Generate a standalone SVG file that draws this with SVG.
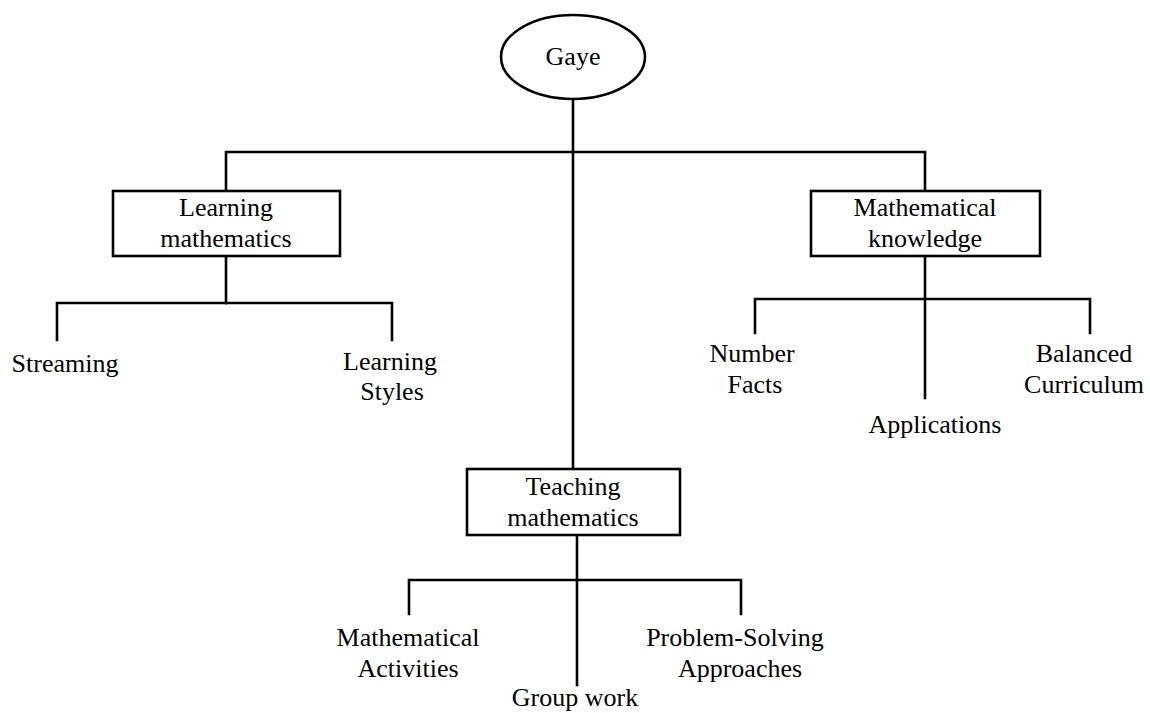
<svg xmlns="http://www.w3.org/2000/svg" width="1150" height="713" viewBox="0 0 1150 713">
<style>
.ln{stroke:#000;stroke-width:2.6;fill:none;stroke-linecap:square}
.bx{stroke:#000;stroke-width:2.6;fill:#fff}
.t{font-family:'Liberation Serif','Times New Roman',Times,serif;font-size:26px;fill:#000;text-anchor:middle}
</style>
<rect width="1150" height="713" fill="#fff"/>
<g id="connectors">
<path class="ln" d="M573,99 V469"/>
<path class="ln" d="M226,191 V152 H925 V191"/>
<path class="ln" d="M226,256 V303"/>
<path class="ln" d="M57,340 V303 H392 V340"/>
<path class="ln" d="M925,256 V398"/>
<path class="ln" d="M755,333 V299 H1090 V333"/>
<path class="ln" d="M577,535 V685"/>
<path class="ln" d="M409,614 V580 H741 V614"/>
</g>
<g class="t" font-family="Liberation Serif, serif">
<g id="gaye">
<ellipse class="bx" cx="573" cy="57" rx="72" ry="42"/>
<text x="573" y="65">Gaye</text>
</g>
<g id="learning-mathematics">
<rect class="bx" x="113" y="191" width="227" height="65"/>
<text x="226" y="216">Learning</text>
<text x="226" y="247">mathematics</text>
</g>
<g id="mathematical-knowledge">
<rect class="bx" x="811" y="191" width="229" height="65"/>
<text x="925" y="216">Mathematical</text>
<text x="925" y="247">knowledge</text>
</g>
<g id="teaching-mathematics">
<rect class="bx" x="467" y="469" width="213" height="66"/>
<text x="573" y="495">Teaching</text>
<text x="573" y="526">mathematics</text>
</g>
<g id="streaming"><text x="65" y="372">Streaming</text></g>
<g id="learning-styles"><text x="390" y="370">Learning</text><text x="392" y="400">Styles</text></g>
<g id="number-facts"><text x="752" y="362">Number</text><text x="755" y="393">Facts</text></g>
<g id="applications"><text x="935" y="433">Applications</text></g>
<g id="balanced-curriculum"><text x="1084" y="362">Balanced</text><text x="1084" y="393">Curriculum</text></g>
<g id="mathematical-activities"><text x="408" y="646">Mathematical</text><text x="408" y="677">Activities</text></g>
<g id="group-work"><text x="575" y="706">Group work</text></g>
<g id="problem-solving"><text x="735" y="646">Problem-Solving</text><text x="740" y="677">Approaches</text></g>
</g>
</svg>
